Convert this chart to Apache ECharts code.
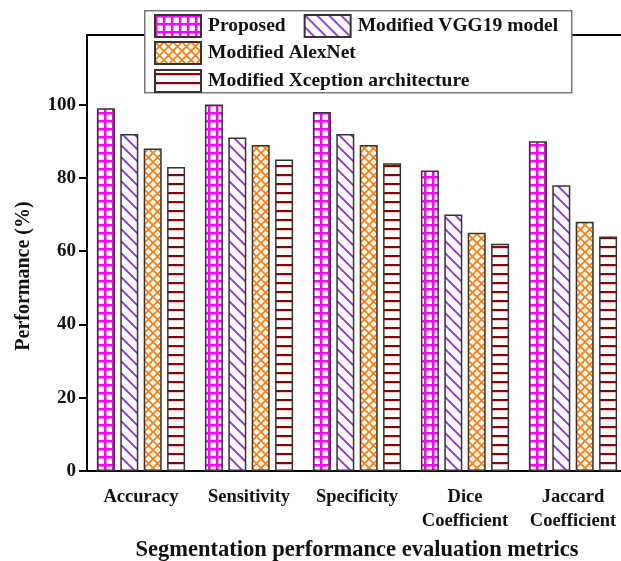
<!DOCTYPE html>
<html><head><meta charset="utf-8">
<script src="https://cdn.jsdelivr.net/npm/echarts@6/dist/echarts.min.js"></script>
<style>html,body{margin:0;padding:0;background:#fff}#c{width:621px;height:561px}</style>
</head><body><div id="c"></div>
<script>
var categories = ['Accuracy', 'Sensitivity', 'Specificity', 'Dice\nCoefficient', 'Jaccard\nCoefficient'];
var seriesNames = ['Proposed', 'Modified VGG19 model', 'Modified AlexNet', 'Modified Xception architecture'];
var proposed = [99, 100, 98, 82, 90];
var vgg19 = [92, 91, 92, 70, 78];
var alexnet = [88, 89, 89, 65, 68];
var xception = [83, 85, 84, 62, 64];
var yTicks = [0, 20, 40, 60, 80, 100];

function tile(w, h, draw) {
  var c = document.createElement('canvas');
  c.width = w; c.height = h;
  var ctx = c.getContext('2d');
  ctx.fillStyle = '#fff'; ctx.fillRect(0, 0, w, h);
  draw(ctx, w, h);
  return { image: c, repeat: 'repeat' };
}
var patGrid = tile(8, 8, function (ctx, w, h) {
  ctx.fillStyle = '#ff00ff';
  ctx.fillRect(0, 0, w, 2.5);
  ctx.fillRect(0, 0, 2.5, h);
});
var patDiag = tile(12, 12, function (ctx, w, h) {
  ctx.strokeStyle = '#8a2be2'; ctx.lineWidth = 1.8;
  ctx.beginPath();
  ctx.moveTo(-2, -2); ctx.lineTo(w + 2, h + 2);
  ctx.moveTo(-2 - w, -2); ctx.lineTo(2, h + 2);
  ctx.moveTo(w - 2, -2); ctx.lineTo(2 * w + 2, h + 2);
  ctx.stroke();
});
var patCross = tile(9, 9, function (ctx, w, h) {
  ctx.strokeStyle = '#ff7f0e'; ctx.lineWidth = 1.8;
  ctx.beginPath();
  ctx.moveTo(-1, -1); ctx.lineTo(w + 1, h + 1);
  ctx.moveTo(w + 1, -1); ctx.lineTo(-1, h + 1);
  ctx.stroke();
});
var patHoriz = tile(8, 9, function (ctx, w, h) {
  ctx.fillStyle = '#8b0000';
  ctx.fillRect(0, 3, w, 2.2);
});
var patterns = [patGrid, patDiag, patCross, patHoriz];
var datasets = [proposed, vgg19, alexnet, xception];

var font = 'Liberation Serif';
var series = seriesNames.map(function (n, i) {
  return {
    name: n, type: 'bar', data: datasets[i],
    barWidth: 18, barGap: '30%',
    itemStyle: { color: patterns[i], borderColor: '#333', borderWidth: 1.5 },
    emphasis: { disabled: true }
  };
});

var chart = echarts.init(document.getElementById('c'), null, { renderer: 'canvas' });
chart.setOption({
  animation: false,
  backgroundColor: '#fff',
  grid: { left: 87, top: 35, width: 540, height: 436, containLabel: false, outerBoundsMode: 'none' },
  xAxis: [{
    type: 'category', data: categories, position: 'bottom',
    axisLine: { lineStyle: { color: '#000', width: 2 } },
    axisTick: { alignWithLabel: true, length: 9, lineStyle: { color: '#000', width: 2 } },
    axisLabel: { interval: 0, color: '#111', fontFamily: font, fontWeight: 'bold', fontSize: 18.5, margin: 14, lineHeight: 24 },
    name: 'Segmentation performance evaluation metrics', nameLocation: 'middle', nameGap: 68,
    nameTextStyle: { color: '#111', fontFamily: font, fontWeight: 'bold', fontSize: 22.5 }
  }, {
    type: 'category', data: categories, position: 'top',
    axisLine: { lineStyle: { color: '#000', width: 2 } },
    axisTick: { alignWithLabel: true, inside: true, length: 7, lineStyle: { color: '#000', width: 2 } },
    axisLabel: { show: false }
  }],
  yAxis: {
    type: 'value', min: 0, max: 119, interval: 20,
    axisLine: { show: true, lineStyle: { color: '#000', width: 2 } },
    axisTick: { show: true, length: 8, lineStyle: { color: '#000', width: 2 } },
    splitLine: { show: false },
    axisLabel: { color: '#111', fontFamily: font, fontWeight: 'bold', fontSize: 19, margin: 11, showMaxLabel: false,
      formatter: function (v) { return yTicks.indexOf(v) >= 0 ? String(v) : ''; } },
    name: 'Performance (%)', nameLocation: 'middle', nameGap: 53,
    nameTextStyle: { color: '#111', fontFamily: font, fontWeight: 'bold', fontSize: 20, padding: [0, 46, 0, 0] }
  },
  graphic: [{
    type: 'rect', z: 3, left: 144, top: 10,
    shape: { width: 427, height: 82 },
    style: { fill: '#fff', stroke: '#777', lineWidth: 1.5 }
  }],
  legend: [{
    data: [seriesNames[0], seriesNames[1]], orient: 'horizontal', left: 154, top: 14, z: 5,
    itemWidth: 46, itemHeight: 22, itemGap: 18, icon: 'rect', padding: 0,
    textStyle: { color: '#111', fontFamily: font, fontWeight: 'bold', fontSize: 19.5, padding: [0, 0, 0, 2] }
  }, {
    data: [seriesNames[2], seriesNames[3]], orient: 'vertical', left: 154, top: 41, z: 5,
    itemWidth: 46, itemHeight: 22, itemGap: 4, icon: 'rect', padding: 0,
    textStyle: { color: '#111', fontFamily: font, fontWeight: 'bold', fontSize: 19.5, padding: [0, 0, 0, 2] }
  }],
  series: series
});
</script></body></html>
